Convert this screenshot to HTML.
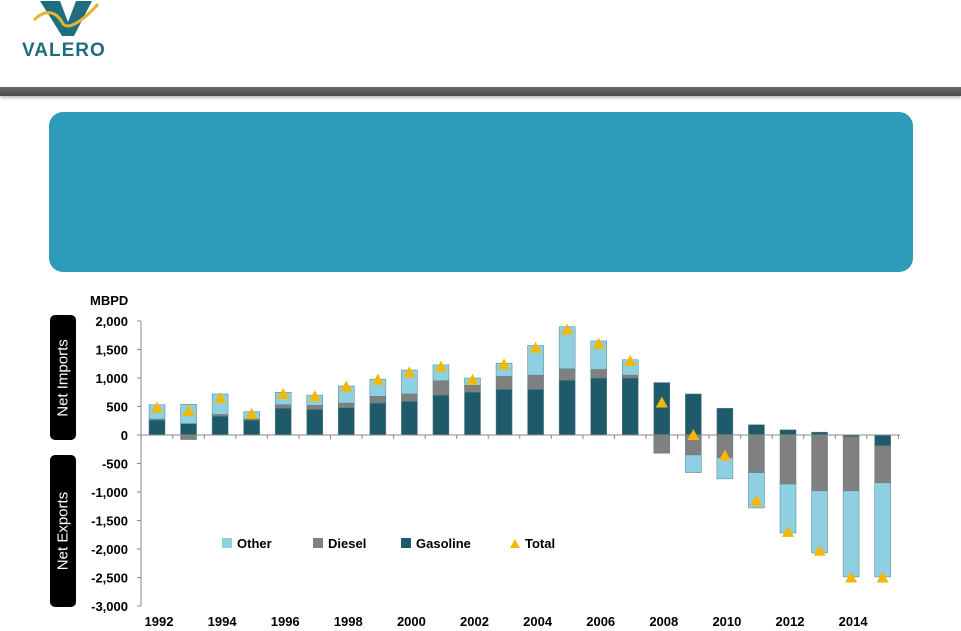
<!DOCTYPE html>
<html><head><meta charset="utf-8"><style>
body{margin:0;width:961px;height:631px;background:#fff;overflow:hidden;font-family:"Liberation Sans",Arial,sans-serif;position:relative}
.side{position:absolute;left:50px;width:26px;background:#000;border-radius:5px;color:#fff;font-size:15px}
.side span{position:absolute;left:50%;top:50%;transform:translate(-50%,-50%) rotate(-90deg);white-space:nowrap}
</style></head><body>
<div style="position:absolute;left:20px;top:0px;width:100px;height:62px">
<svg width="100" height="62"><path d="M20 1 L40 1 L48 22 L56 1 L72 1 L54 36 L42 36 Z" fill="#1E6E80"/><path d="M14 20 C26 8 36 12 42 22 C46 32 62 22 78 4" stroke="#E3B62A" stroke-width="3" fill="none"/>
<text x="2" y="56" font-size="19" font-weight="bold" fill="#1E6E80" font-family="Liberation Sans, sans-serif" letter-spacing="1">VALERO</text></svg></div>
<div style="position:absolute;left:0;top:87px;width:961px;height:9px;background:linear-gradient(#6a6a6a,#4a4a4a);box-shadow:0 2px 3px #bbb"></div>
<div style="position:absolute;left:49px;top:112px;width:864px;height:160px;background:#2E9BB8;border-radius:14px"></div>
<div class="side" style="top:315px;height:125px"><span>Net Imports</span></div>
<div class="side" style="top:455px;height:152px"><span>Net Exports</span></div>
<svg id="chart" width="961" height="631" style="position:absolute;left:0;top:0"></svg>
<script>
const years=[1992,1993,1994,1995,1996,1997,1998,1999,2000,2001,2002,2003,2004,2005,2006,2007,2008,2009,2010,2011,2012,2013,2014,2015];
const gasoline=[260,200,330,260,470,450,480,560,590,700,750,800,800,960,1000,1000,920,720,470,180,90,50,-30,-190];
const diesel=[20,-80,30,20,60,70,80,120,130,250,120,230,250,200,150,50,-320,-350,-400,-660,-860,-980,-950,-650];
const other=[250,340,360,130,220,180,300,300,420,280,130,230,520,740,500,270,0,-310,-370,-620,-860,-1090,-1510,-1650];
const total=[480,420,650,370,720,680,850,970,1100,1200,970,1240,1530,1850,1600,1300,570,0,-360,-1150,-1700,-2030,-2500,-2500];
const yTicks=[2000,1500,1000,500,0,-500,-1000,-1500,-2000,-2500,-3000];
const xLabels=[1992,1994,1996,1998,2000,2002,2004,2006,2008,2010,2012,2014];
const svg=document.getElementById('chart');const NS='http://www.w3.org/2000/svg';
const y=v=>435-v*0.057;const x=yr=>157+(yr-1992)*31.55;
function mk(t,a){const e=document.createElementNS(NS,t);for(const k in a)e.setAttribute(k,a[k]);svg.appendChild(e);return e;}
let e;
e=mk('line',{x1:141,y1:y(2000),x2:141,y2:y(-3000),stroke:'#888'});

yTicks.forEach(v=>{mk('line',{x1:137,x2:141,y1:y(v),y2:y(v),stroke:'#888'});
e=mk('text',{x:128,y:y(v)+5,'text-anchor':'end','font-size':13,'font-weight':'bold'});e.textContent=v.toLocaleString('en-US');
});
e=mk('text',{x:90,y:305,'font-size':13,'font-weight':'bold'});e.textContent='MBPD';

const cols={g:'#1F5A6B',d:'#808080',o:'#8ED0E2'};
years.forEach((yr,i)=>{let pos=0,neg=0;[['g',gasoline[i]],['d',diesel[i]],['o',other[i]]].forEach(([k,v])=>{if(!v)return;let a,b;
if(v>0){a=pos;b=pos+v;pos=b;}else{a=neg;b=neg+v;neg=b;}
e=mk('rect',{x:x(yr)-8,y:Math.min(y(a),y(b)),width:16,height:Math.abs(y(a)-y(b)),fill:cols[k],stroke:'#5a7f88','stroke-width':0.5});
});});
e=mk('line',{x1:141,y1:y(0),x2:900,y2:y(0),stroke:'#888'});

years.concat([2016]).forEach(yr=>{const xx=x(yr)-15.8;mk('line',{x1:xx,x2:xx,y1:y(0),y2:y(0)+4,stroke:'#888'});});
years.forEach((yr,i)=>{const cx=x(yr),cy=y(total[i]);
e=mk('polygon',{points:`${cx-6},${cy+5} ${cx+6},${cy+5} ${cx},${cy-6}`,fill:'#F5B800'});
});
xLabels.forEach(yr=>{e=mk('text',{x:x(yr)+2,y:631-5,'text-anchor':'middle','font-size':13,'font-weight':'bold'});e.textContent=yr;
});
[['Other',cols.o,222,'r'],['Diesel',cols.d,313,'r'],['Gasoline',cols.g,401,'r'],['Total','#F5B800',510,'t']].forEach(([n,c,lx,s])=>{
if(s==='r')e=mk('rect',{x:lx,y:538,width:10,height:10,fill:c});else e=mk('polygon',{points:`${lx},${548} ${lx+10},548 ${lx+5},539`,fill:c});

e=mk('text',{x:lx+15,y:548,'font-size':13,'font-weight':'bold'});e.textContent=n;
});
</script>
</body></html>
